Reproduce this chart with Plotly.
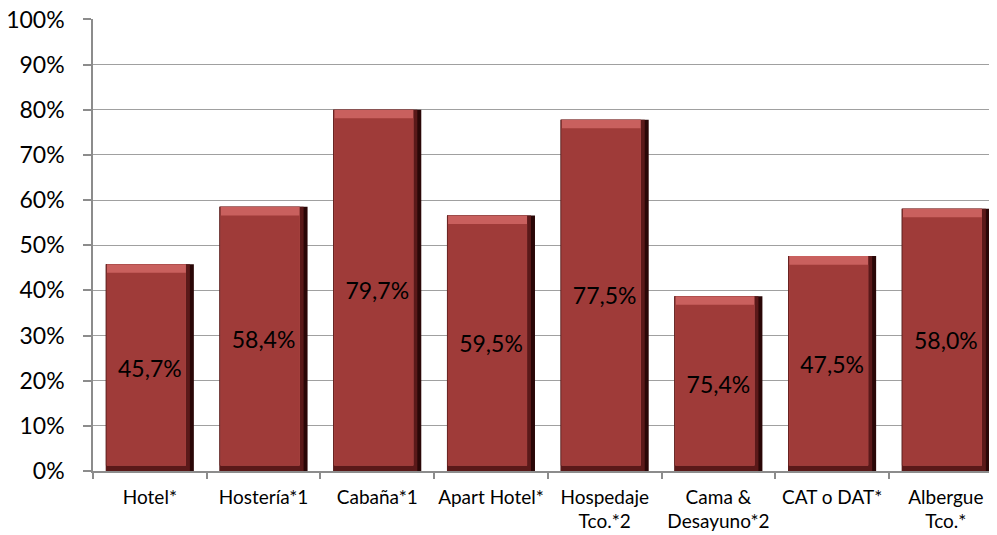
import plotly.graph_objects as go

categories = ["Hotel*", "Hostería*1", "Cabaña*1", "Apart Hotel*",
              "Hospedaje<br>Tco.*2", "Cama &<br>Desayuno*2", "CAT o DAT*", "Albergue<br>Tco.*"]
bar_values = [45.8, 58.5, 80.0, 56.6, 77.8, 38.7, 47.6, 58.1]
label_texts = ["45,7%", "58,4%", "79,7%", "59,5%", "77,5%", "75,4%", "47,5%", "58,0%"]
y_ticks = [0, 10, 20, 30, 40, 50, 60, 70, 80, 90, 100]
y_tick_labels = [f"{t}%" for t in y_ticks]

FONT = "Lato"
W = 0.774  # bar width (category units)

# bevel layers: (left offset frac, width frac, bottom inset, top inset, colour)
layers = [
    (0.000, 1.000, 0.0, 0.0, "#2a0707"),
    (0.000, 0.955, 0.0, 0.0, "#5a1919"),
    (0.000, 0.910, 1.2, 0.0, "#6e2523"),
    (0.012, 0.898, 1.2, 0.0, "#C9605E"),
    (0.012, 0.898, 1.2, 1.9, "#9F3B39"),
]

fig = go.Figure()
n = len(categories)
for lf, wf, bi, ti, col in layers:
    fig.add_trace(go.Bar(
        x=categories,
        y=[v - bi - ti for v in bar_values],
        base=[bi] * n,
        width=[W * wf] * n,
        offset=[-W / 2 + lf * W] * n,
        marker=dict(color=col, line=dict(width=0)),
        hoverinfo="skip",
        showlegend=False,
    ))

fig.add_trace(go.Bar(
    x=categories,
    y=bar_values,
    width=[W] * n,
    offset=[-W / 2] * n,
    marker=dict(color="rgba(0,0,0,0)", line=dict(width=0)),
    text=label_texts,
    textposition="inside",
    insidetextanchor="middle",
    textangle=0,
    textfont=dict(family=FONT, size=23, color="#000000"),
    showlegend=False,
))

fig.update_layout(
    width=989, height=527,
    margin=dict(l=85, r=0, t=11, b=64),
    barmode="overlay",
    plot_bgcolor="#ffffff",
    paper_bgcolor="#ffffff",
    font=dict(family=FONT, color="#000000"),
    xaxis=dict(
        type="category",
        range=[-0.5, 7.45],
        tickson="boundaries",
        ticks="outside", ticklen=6, tickwidth=1.5, tickcolor="#8c8c8c",
        showline=True, linecolor="#8c8c8c", linewidth=1.5,
        showgrid=False,
        tickangle=0,
        automargin=False,
        tickfont=dict(family=FONT, size=19, color="#000000"),
        ticklabelstandoff=8,
    ),
    yaxis=dict(
        range=[0, 100.1],
        tickvals=y_ticks, ticktext=y_tick_labels,
        ticks="outside", ticklen=8, tickwidth=1.5, tickcolor="#8c8c8c",
        showline=True, linecolor="#8c8c8c", linewidth=1.5,
        showgrid=True, gridcolor="#a0a0a0", gridwidth=1.4,
        zeroline=False,
        automargin=False,
        ticklabeloverflow="allow",
        tickfont=dict(family=FONT, size=23, color="#000000"),
        ticklabelstandoff=14,
    ),
)

fig.write_html("out.html")
